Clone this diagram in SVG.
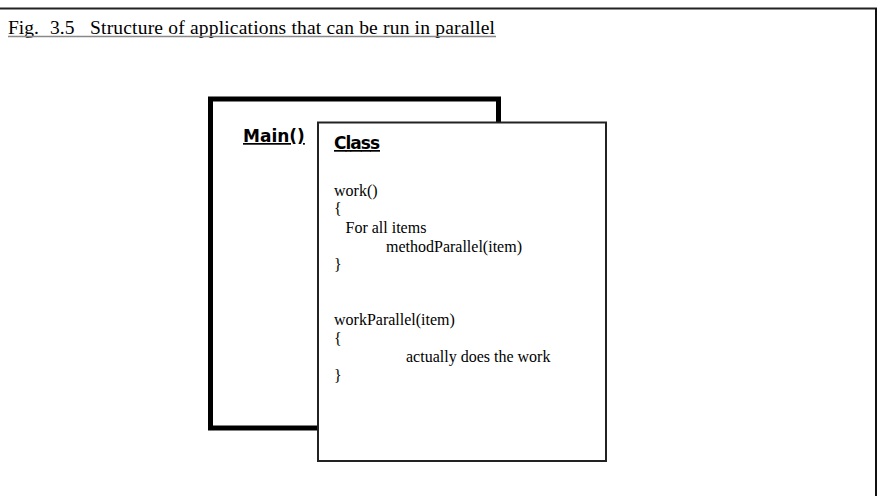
<svg xmlns="http://www.w3.org/2000/svg" width="880" height="496" viewBox="0 0 880 496">
<style>
.serif{font-family:"Liberation Serif","Times New Roman",serif;fill:#000}
.head{font-family:"DejaVu Sans",Verdana,sans-serif;font-weight:bold;font-size:17px;fill:#000;text-decoration:underline}
</style>
<rect x="0" y="0" width="880" height="496" fill="#fff"/>
<g id="frame">
<line x1="0" y1="8.5" x2="877" y2="8.5" stroke="#222" stroke-width="2"/>
<line x1="876" y1="8" x2="876" y2="496" stroke="#111" stroke-width="2"/>
</g>
<g id="title" class="serif" font-size="19.5">
<text x="8" y="34">Fig.</text>
<text x="50" y="34">3.5</text>
<text x="90" y="34" textLength="405" lengthAdjust="spacing">Structure of applications that can be run in parallel</text>
<line x1="8" y1="36.5" x2="496" y2="36.5" stroke="#888" stroke-width="1.5"/>
</g>
<g id="main">
<rect x="210.5" y="99" width="288" height="329" fill="#fff" stroke="#000" stroke-width="5"/>
<text class="head" x="243" y="142">Main()</text>
</g>
<g id="class">
<rect x="318" y="122.5" width="288" height="338.5" fill="#fff" stroke="#222" stroke-width="2"/>
<text class="head" x="334" y="149" textLength="46">Class</text>
<g class="serif" font-size="16">
<text x="334" y="196">work()</text>
<text x="334" y="214">{</text>
<text x="345.5" y="233">For all items</text>
<text x="386" y="251.5">methodParallel(item)</text>
<text x="334" y="270">}</text>
<text x="334" y="325">workParallel(item)</text>
<text x="334" y="344">{</text>
<text x="406" y="362">actually does the work</text>
<text x="334" y="381">}</text>
</g>
</g>
<g id="connectors"></g>
</svg>
